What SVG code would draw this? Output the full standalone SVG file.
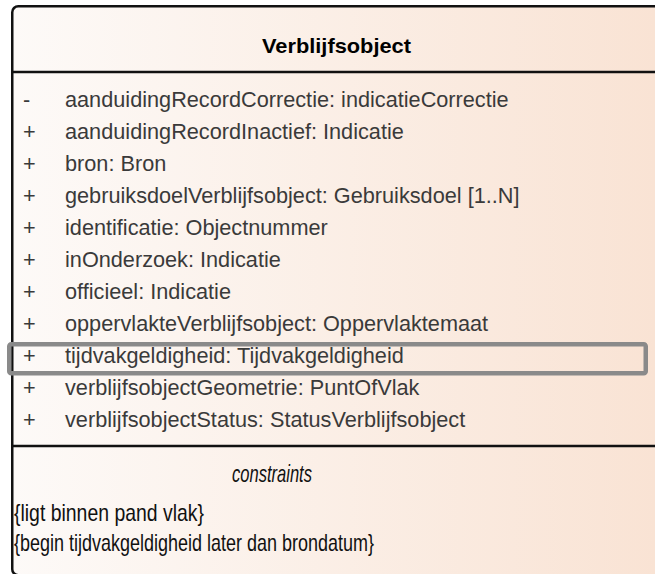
<svg xmlns="http://www.w3.org/2000/svg" width="655" height="574" viewBox="0 0 655 574">
  <defs>
    <linearGradient id="bg" gradientUnits="userSpaceOnUse" x1="12" y1="0" x2="655" y2="0">
      <stop offset="0" stop-color="#fdfaf8"/>
      <stop offset="1" stop-color="#f9e3d4"/>
    </linearGradient>
  </defs>
  <style>
    .attr { font-family: "Liberation Sans", Arial, sans-serif; font-size: 21.7px; fill: #3a3a3a; }
    .title { font-family: "Liberation Sans", Arial, sans-serif; font-size: 21px; font-weight: bold; fill: #000; }
    .cons { font-family: "Liberation Sans", Arial, sans-serif; font-size: 24px; fill: #111; }
    .sep { stroke: #111; stroke-width: 2.5; }
  </style>
  <rect width="655" height="574" fill="#ffffff"/>
  <g id="verblijfsobject">
    <rect x="12.25" y="6.25" width="700" height="569" rx="6" fill="url(#bg)" stroke="#111" stroke-width="2.5"/>
    <text class="title" x="262" y="53" textLength="149" lengthAdjust="spacingAndGlyphs">Verblijfsobject</text>
    <line class="sep" x1="12" y1="72" x2="655" y2="72"/>
    <g class="attr">
      <text x="23" y="107">-</text><text x="65" y="107">aanduidingRecordCorrectie: indicatieCorrectie</text>
      <text x="23" y="139">+</text><text x="65" y="139">aanduidingRecordInactief: Indicatie</text>
      <text x="23" y="171">+</text><text x="65" y="171">bron: Bron</text>
      <text x="23" y="203">+</text><text x="65" y="203">gebruiksdoelVerblijfsobject: Gebruiksdoel [1..N]</text>
      <text x="23" y="235">+</text><text x="65" y="235">identificatie: Objectnummer</text>
      <text x="23" y="267">+</text><text x="65" y="267">inOnderzoek: Indicatie</text>
      <text x="23" y="299">+</text><text x="65" y="299">officieel: Indicatie</text>
      <text x="23" y="331">+</text><text x="65" y="331">oppervlakteVerblijfsobject: Oppervlaktemaat</text>
      <text x="23" y="363">+</text><text x="65" y="363">tijdvakgeldigheid: Tijdvakgeldigheid</text>
      <text x="23" y="395">+</text><text x="65" y="395">verblijfsobjectGeometrie: PuntOfVlak</text>
      <text x="23" y="427">+</text><text x="65" y="427">verblijfsobjectStatus: StatusVerblijfsobject</text>
    </g>
    <rect x="9.25" y="344.25" width="636.5" height="29" rx="2" fill="none" stroke="#8a8a8a" stroke-width="4.5"/>
    <line class="sep" x1="12" y1="446" x2="655" y2="446"/>
    <text class="cons" x="232" y="482" font-style="italic" textLength="80" lengthAdjust="spacingAndGlyphs">constraints</text>
    <text class="cons" x="14" y="521" textLength="190" lengthAdjust="spacingAndGlyphs">{ligt binnen pand vlak}</text>
    <text class="cons" x="14" y="551" textLength="360" lengthAdjust="spacingAndGlyphs">{begin tijdvakgeldigheid later dan brondatum}</text>
  </g>
  <g id="connectors"/>
</svg>
